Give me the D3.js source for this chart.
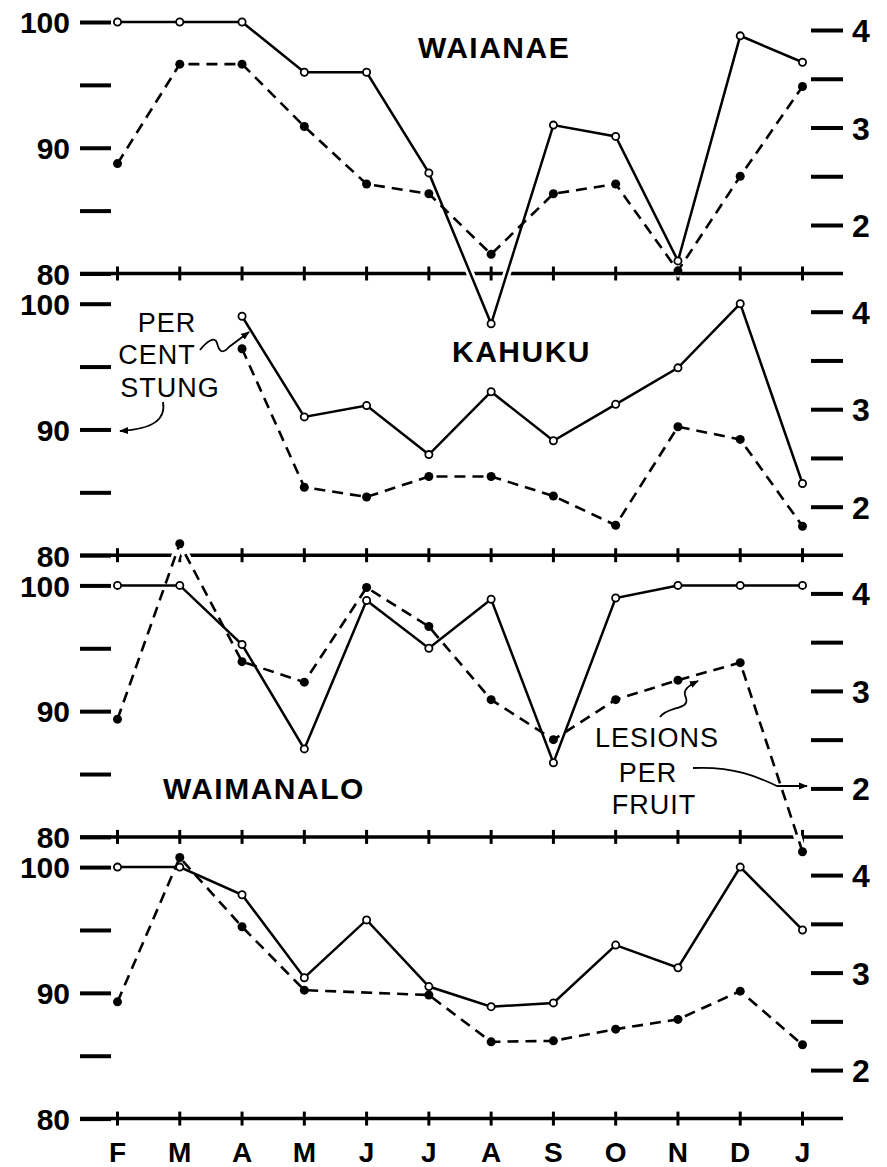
<!DOCTYPE html>
<html>
<head>
<meta charset="utf-8">
<script src="https://cdn.jsdelivr.net/npm/d3@7"></script>
<style>
  body { margin: 0; background: #fff; }
  svg { display: block; }
  text { font-family: "Liberation Sans", Arial, sans-serif; fill: #000; }
</style>
</head>
<body>
<div class="chart"></div>
<script>
// months along the bottom (Feb .. Jan)
const months = ["F", "M", "A", "M", "J", "J", "A", "S", "O", "N", "D", "J"];

// per cent stung (left axis), lesions per fruit (right axis)
const waianaeStung    = [100, 100, 100, 96, 96, 88, 76, 91.8, 90.9, 81, 98.9, 96.8];
const waianaeLesions  = [2.63, 3.65, 3.65, 3.01, 2.42, 2.32, 1.70, 2.32, 2.42, 1.53, 2.50, 3.42];
const kahukuStung     = [null, null, 99, 91, 91.9, 88, 93, 89.1, 92, 94.9, 100, 85.7];
const kahukuLesions   = [null, null, 3.62, 2.20, 2.10, 2.31, 2.31, 2.11, 1.81, 2.82, 2.69, 1.80];
const waimanaloStung  = [100, 100, 95.3, 87, 98.8, 95, 98.9, 85.9, 99, 100, 100, 100];
const waimanaloLesions = [2.71, 4.51, 3.30, 3.09, 4.06, 3.66, 2.91, 2.50, 2.91, 3.11, 3.29, 1.35];
const fourthStung     = [100, 100, 97.8, 91.2, 95.8, 90.5, 88.9, 89.2, 93.8, 92, 100, 95];
const fourthLesions   = [2.70, 4.18, 3.47, 2.82, null, 2.77, 2.29, 2.30, 2.42, 2.52, 2.81, 2.26];

const panelNames = ["WAIANAE", "KAHUKU", "WAIMANALO", ""];
const stungSeries = [waianaeStung, kahukuStung, waimanaloStung, fourthStung];
const lesionSeries = [waianaeLesions, kahukuLesions, waimanaloLesions, fourthLesions];

const leftTicks = [80, 85, 90, 95, 100];
const leftLabels = [80, 90, 100];
const rightTicks = [2, 2.5, 3, 3.5, 4];
const rightLabels = [2, 3, 4];

const width = 887, height = 1167;
const svg = d3.select(".chart").append("svg")
  .attr("width", width).attr("height", height);

const defs = svg.append("defs");
defs.append("marker")
  .attr("id", "arrow")
  .attr("viewBox", "0 0 10 10")
  .attr("refX", 9).attr("refY", 5)
  .attr("markerWidth", 9).attr("markerHeight", 9)
  .attr("markerUnits", "userSpaceOnUse")
  .attr("orient", "auto")
  .append("path").attr("d", "M0,1 L10,5 L0,9 Z").attr("fill", "#000");

const x = d3.scaleLinear().domain([0, 11]).range([117.5, 802.5]);
const axisLeftX = 111, axisRightX = 811, lineStart = 80, lineEnd = 843;
const panelStep = 281.7, panelTop0 = 22, panelH = 251.5;

// title placement per panel
const titlePos = [[418, 58], [452, 362], [163, 799], null];

stungSeries.forEach(function(stung, i) {
  const top = panelTop0 + panelStep * i;
  const bottom = top + panelH;
  const yL = d3.scaleLinear().domain([80, 100]).range([bottom, top]);
  const yR = d3.scaleLinear().domain([2, 4]).range([top + 203, top + 8]);
  const g = svg.append("g").attr("class", "panel");

  // left axis
  const la = g.append("g")
    .attr("transform", "translate(" + axisLeftX + ",0)")
    .call(d3.axisLeft(yL).tickValues(leftTicks).tickSize(31).tickPadding(10)
      .tickFormat(function(d) { return leftLabels.indexOf(d) >= 0 ? d : ""; }));
  la.select(".domain").remove();
  la.selectAll("line").attr("stroke", "#000").attr("stroke-width", 4);
  la.selectAll("text").style("font-size", "30px").style("font-weight", "700")
    .attr("dy", "0.36em").style("fill", "#000");

  // right axis
  const ra = g.append("g")
    .attr("transform", "translate(" + axisRightX + ",0)")
    .call(d3.axisRight(yR).tickValues(rightTicks).tickSize(32).tickPadding(9)
      .tickFormat(function(d) { return rightLabels.indexOf(d) >= 0 ? d : ""; }));
  ra.select(".domain").remove();
  ra.selectAll("line").attr("stroke", "#000").attr("stroke-width", 4);
  ra.selectAll("text").style("font-size", "32px").style("font-weight", "700")
    .attr("dy", "0.36em").style("fill", "#000");

  // baseline with month crosses
  g.append("line")
    .attr("x1", lineStart).attr("x2", lineEnd)
    .attr("y1", bottom).attr("y2", bottom)
    .attr("stroke", "#000").attr("stroke-width", 3.5);
  g.selectAll(".mtick").data(months).enter().append("line")
    .attr("class", "mtick")
    .attr("x1", function(d, k) { return x(k); })
    .attr("x2", function(d, k) { return x(k); })
    .attr("y1", bottom - 7).attr("y2", bottom + 7)
    .attr("stroke", "#000").attr("stroke-width", 3);

  const sPts = stung.map(function(v, k) { return {k: k, v: v}; })
    .filter(function(d) { return d.v != null; });
  const lPts = lesionSeries[i].map(function(v, k) { return {k: k, v: v}; })
    .filter(function(d) { return d.v != null; });

  const lineS = d3.line().x(function(d) { return x(d.k); }).y(function(d) { return yL(d.v); });
  const lineL = d3.line().x(function(d) { return x(d.k); }).y(function(d) { return yR(d.v); });

  // white halo so the axis breaks where the curves cross
  [[sPts, lineS], [lPts, lineL]].forEach(function(p) {
    g.append("path").datum(p[0]).attr("d", p[1])
      .attr("fill", "none").attr("stroke", "#fff").attr("stroke-width", 8);
  });

  g.append("path").datum(lPts).attr("d", lineL)
    .attr("fill", "none").attr("stroke", "#000")
    .attr("stroke-width", 2.6).attr("stroke-dasharray", "11,7");
  g.append("path").datum(sPts).attr("d", lineS)
    .attr("fill", "none").attr("stroke", "#000").attr("stroke-width", 2.5);

  g.selectAll(".dot").data(lPts).enter().append("circle")
    .attr("class", "dot")
    .attr("cx", function(d) { return x(d.k); })
    .attr("cy", function(d) { return yR(d.v); })
    .attr("r", 4.5).attr("fill", "#000");
  g.selectAll(".ring").data(sPts).enter().append("circle")
    .attr("class", "ring")
    .attr("cx", function(d) { return x(d.k); })
    .attr("cy", function(d) { return yL(d.v); })
    .attr("r", 3.6).attr("fill", "#fff").attr("stroke", "#000").attr("stroke-width", 1.8);

  if (titlePos[i]) {
    g.append("text").attr("x", titlePos[i][0]).attr("y", titlePos[i][1])
      .style("font-size", "30px").style("font-weight", "700")
      .style("letter-spacing", "1.5px")
      .text(panelNames[i]);
  }
});

// month labels under the last panel
svg.append("g").selectAll("text").data(months).enter().append("text")
  .attr("x", function(d, k) { return x(k); })
  .attr("y", 1162)
  .attr("text-anchor", "middle")
  .style("font-size", "28px").style("font-weight", "700")
  .text(function(d) { return d; });

// annotations
const note = svg.append("g").attr("class", "notes");
function label(lines, cx, ys) {
  lines.forEach(function(t, k) {
    note.append("text").attr("x", cx[k]).attr("y", ys[k])
      .attr("text-anchor", "middle")
      .style("font-size", "27px").style("letter-spacing", "1px")
      .text(t);
  });
}
label(["PER", "CENT", "STUNG"], [167, 157, 170], [332, 364, 397]);
label(["LESIONS", "PER", "FRUIT"], [657, 648, 654], [747, 782, 814]);

function arrow(d) {
  note.append("path").attr("d", d).attr("fill", "none")
    .attr("stroke", "#000").attr("stroke-width", 1.8)
    .attr("marker-end", "url(#arrow)");
}
arrow("M200,350 C207,341 215,336 217,343 C219,351 222,355 229,347 L249,332");
arrow("M163,402 C166,419 154,429 120,431");
arrow("M660,717 C668,706 690,710 686,698 C682,690 688,686 698,681");
arrow("M693,768 C735,766 760,778 777,786 L807,786");
</script>
</body>
</html>
